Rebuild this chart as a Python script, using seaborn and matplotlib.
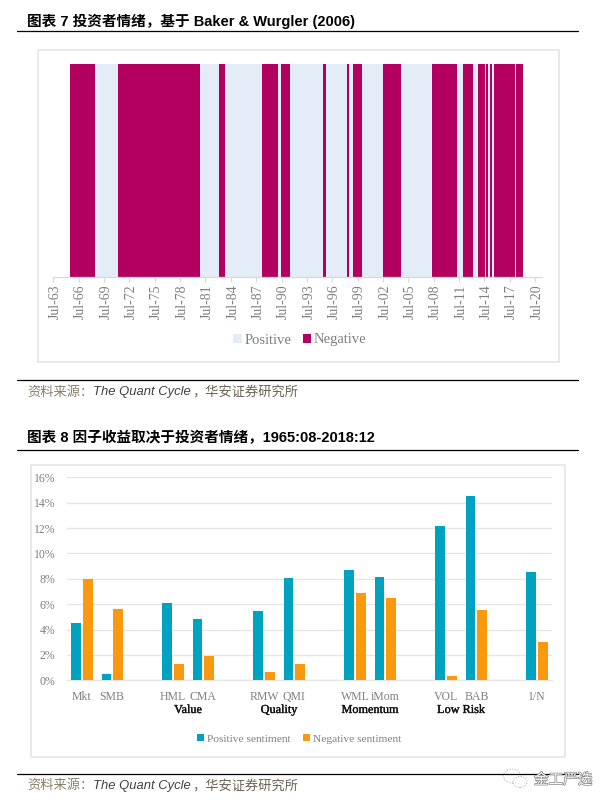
# Investor sentiment regimes and factor returns by sentiment
import pandas as pd
import matplotlib
matplotlib.use('Agg')
import matplotlib.pyplot as plt
import matplotlib.patheffects as pe
from matplotlib.patches import Rectangle, Ellipse
from matplotlib.transforms import ScaledTranslation
import seaborn as sns

# sentiment regimes: first month of each run, states alternate
regime_start = ['1965-07', '1968-07', '1971-03', '1980-12', '1983-03', '1983-11', '1988-04',
                '1990-02', '1990-07', '1991-07', '1995-07', '1995-10', '1998-04', '1998-07',
                '1999-01', '2000-02', '2002-07', '2004-09', '2008-05', '2008-09', '2008-10',
                '2011-04', '2012-01', '2013-04', '2013-11', '2014-09', '2014-10', '2014-12',
                '2015-04', '2015-07', '2015-09', '2018-03', '2018-05']
regime_state = ['Negative', 'Positive'] * 16 + ['Negative']
regime_end = '2019-02'

# factor returns
factors = ['Mkt', 'SMB', 'HML', 'CMA', 'RMW', 'QMI', 'WML', 'iMom', 'VOL', 'BAB', '1/N']
positive_ret = [4.5, 0.5, 6.07, 4.83, 5.49, 8.04, 8.7, 8.15, 12.14, 14.5, 8.51]
negative_ret = [7.99, 5.65, 1.26, 1.94, 0.68, 1.29, 6.91, 6.46, 0.34, 5.52, 3.05]
factor_slots = ['Mkt', 'SMB', ' ', 'HML', 'CMA', '  ', 'RMW', 'QMI', '   ', 'WML', 'iMom', '    ',
                'VOL', 'BAB', '     ', '1/N']
group_names = ['Value', 'Quality', 'Momentum', 'Low Risk']
group_pos = [3.5, 6.5, 9.5, 12.5]

W, H = 612, 806
GREY = '#7f7f7f'
LINE = '#d9d9d9'
CJK = ['Liberation Sans', 'Noto Sans CJK SC']
SERIF = 'Liberation Serif'

sns.set_theme(style='white')
plt.rcParams['font.family'] = CJK


def axes_px(fig, left, top, right, bottom):
    return fig.add_axes([left / W, 1 - bottom / H, (right - left) / W, (bottom - top) / H])


def fig_text(fig, x, y, s, **kw):
    fig.text(x / W, 1 - y / H, s, va='center', **kw)


def rule(fig, y):
    fig.add_artist(plt.Line2D([17 / W, 578 / W], [1 - y / H, 1 - y / H], color='black', lw=0.9))


def frame(fig, left, top, right, bottom):
    fig.add_artist(Rectangle((left / W, 1 - bottom / H), (right - left) / W, (bottom - top) / H,
                             transform=fig.transFigure, fill=False, ec='#e3e3e3', lw=1.1))


def source(fig, y):
    fig_text(fig, 27, y, '资料来源：', color='#8a7f6a', fontsize=9.5)
    fig_text(fig, 93, y, 'The Quant Cycle', color='#404040', fontsize=9.4, style='italic')
    fig_text(fig, 192.5, y, '，华安证券研究所', color='#6b6152', fontsize=9.5)


fig = plt.figure(figsize=(W / 100, H / 100), dpi=100)

# headers and rules
fig_text(fig, 27, 21, '图表 7 投资者情绪，基于 Baker & Wurgler (2006)', fontsize=10.5, fontweight='bold', color='black')
rule(fig, 31)
rule(fig, 379.5)
source(fig, 392.5)
fig_text(fig, 27, 438, '图表 8 因子收益取决于投资者情绪，1965:08-2018:12', fontsize=10.5, fontweight='bold', color='black')
rule(fig, 449.5)
rule(fig, 773.5)
source(fig, 786)
frame(fig, 37.5, 49.5, 558.5, 361.5)
frame(fig, 30.5, 465, 565, 757)

# top chart: monthly regime bars
months = pd.period_range('1963-07', '2020-07', freq='M')
sample = pd.period_range(regime_start[0], regime_end, freq='M')
starts = pd.PeriodIndex(regime_start, freq='M')
df_regime = pd.DataFrame({'month': sample.astype(str)})
df_regime['state'] = pd.Series(regime_state, index=starts).reindex(sample).ffill().values
df_regime['on'] = 1

ax1 = axes_px(fig, 53.3, 64.3, 541.7, 277)
sns.barplot(data=df_regime, x='month', y='on', hue='state', order=months.astype(str),
            hue_order=['Positive', 'Negative'], palette={'Positive': '#e4ecf7', 'Negative': '#b30060'},
            dodge=False, width=1.0, linewidth=0, saturation=1, ax=ax1)
ax1.set_xlim(0, len(months) - 1 + 9.4)
ax1.set_ylim(0, 1)
ax1.set_xlabel('')
ax1.set_ylabel('')
tick_idx = list(range(0, len(months), 36))
ax1.set_xticks(tick_idx)
ax1.set_xticklabels([months[i].strftime('%b-%y') for i in tick_idx], rotation=90, family=SERIF,
                    fontsize=10, color=GREY)
ax1.set_yticks([])
ax1.tick_params(axis='x', length=3.5, width=0.8, color=LINE, pad=2, bottom=True)
# rotated labels sit a little left of their ticks otherwise
nudge = ScaledTranslation(2 / 100, 0, fig.dpi_scale_trans)
for lab in ax1.get_xticklabels():
    lab.set_transform(lab.get_transform() + nudge)
sns.despine(ax=ax1, left=True)
ax1.spines['bottom'].set_color(LINE)
ax1.spines['bottom'].set_linewidth(0.9)
ax1.patch.set_alpha(0)
sns.move_legend(ax1, 'center', bbox_to_anchor=(300 / W, 1 - 340 / H), bbox_transform=fig.transFigure,
                ncol=2, frameon=False, title=None, handlelength=0.55, handleheight=0.55,
                handletextpad=0.2, columnspacing=0.8, borderpad=0, labelcolor=GREY,
                prop={'family': SERIF, 'size': 10.5})

# bottom chart: grouped bars
df_ret = pd.DataFrame({'factor': factors * 2,
                       'ret': positive_ret + negative_ret,
                       'sentiment': ['Positive sentiment'] * len(factors) + ['Negative sentiment'] * len(factors)})
ax2 = axes_px(fig, 66.7, 477.3, 552.3, 680.3)
sns.barplot(data=df_ret, x='factor', y='ret', hue='sentiment', order=factor_slots,
            hue_order=['Positive sentiment', 'Negative sentiment'],
            palette={'Positive sentiment': '#00a3bf', 'Negative sentiment': '#f8990f'},
            width=0.764, gap=0.162, saturation=1, linewidth=0, ax=ax2, zorder=3)
ax2.set_xlim(-0.5, len(factor_slots) - 0.5)
ax2.set_ylim(0, 16)
ax2.set_xlabel('')
ax2.set_ylabel('')
ax2.set_yticks(range(0, 17, 2))
ax2.set_yticklabels([f'{v}%' for v in range(0, 17, 2)], family=SERIF, fontsize=8.5, color=GREY)
ax2.set_xticks(range(len(factor_slots)))
ax2.set_xticklabels(factor_slots, family=SERIF, fontsize=8.5, color=GREY)
ax2.tick_params(axis='y', length=0, pad=8)
ax2.tick_params(axis='x', length=0, pad=8)
ax2.grid(axis='y', color='#e6e6e6', lw=1.0, zorder=0)
ax2.set_axisbelow(True)
sns.despine(ax=ax2, left=True, bottom=False)
ax2.spines['bottom'].set_color('#e6e6e6')
ax2.spines['bottom'].set_linewidth(1.0)
for name, pos in zip(group_names, group_pos):
    ax2.text(pos, 1 - (710 - 477.3) / 203, name, transform=ax2.get_xaxis_transform(), ha='center',
             va='center', family=SERIF, fontsize=8.8, color='#111111',
             path_effects=[pe.withStroke(linewidth=0.25, foreground='#111111')])
sns.move_legend(ax2, 'center', bbox_to_anchor=(299 / W, 1 - 739 / H), bbox_transform=fig.transFigure,
                ncol=2, frameon=False, title=None, handlelength=0.6, handleheight=0.6,
                handletextpad=0.25, columnspacing=1.1, borderpad=0, labelcolor=GREY,
                prop={'family': SERIF, 'size': 8.2})

# watermark
fig_text(fig, 534, 780, '金工严选', fontsize=10.5, color='white', family='Noto Sans CJK SC',
         path_effects=[pe.withStroke(linewidth=0.9, foreground='#777777')])
for cx, cy, w_, h_ in [(512, 776, 17, 14), (520, 782, 14, 11)]:
    fig.add_artist(Ellipse((cx / W, 1 - cy / H), w_ / W, h_ / H, transform=fig.transFigure,
                           fc='white', ec='#aaaaaa', lw=0.7, ls=':'))

fig.savefig('out.png', dpi=100)
